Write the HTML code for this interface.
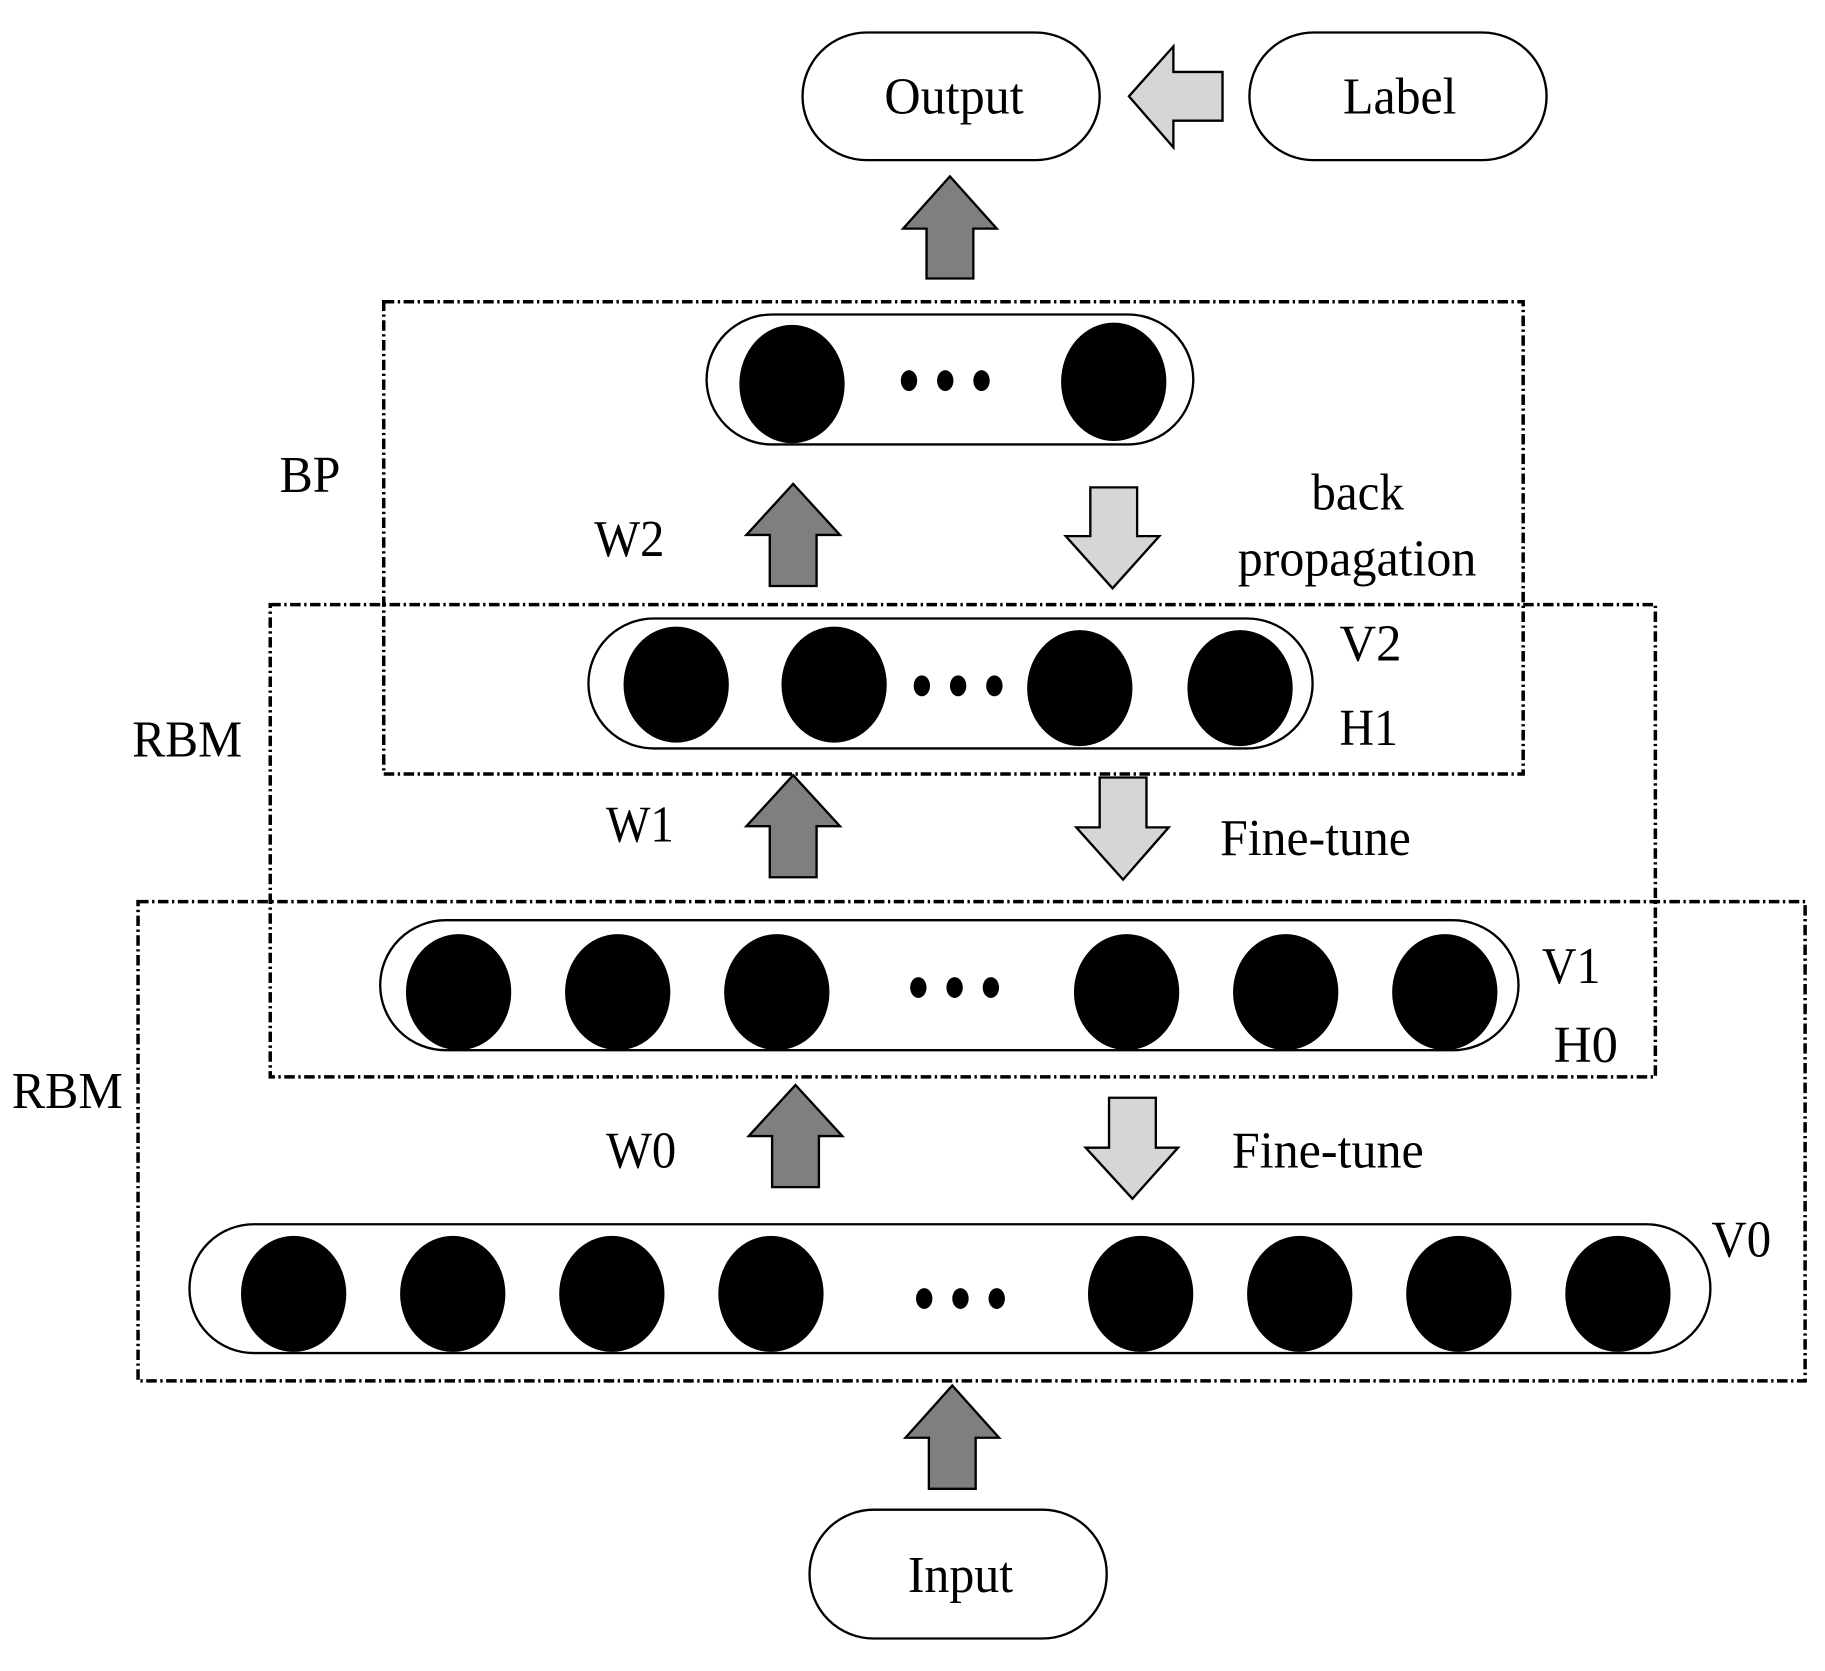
<!DOCTYPE html>
<html><head><meta charset="utf-8"><style>html,body{margin:0;padding:0;background:#fff}svg{display:block}</style></head>
<body>
<svg width="1825" height="1671" viewBox="0 0 1560 1440" preserveAspectRatio="none" xmlns="http://www.w3.org/2000/svg">
<g font-family="Liberation Serif, serif" font-size="45" fill="#000">
<g fill="none" stroke="#000" stroke-width="3" stroke-dasharray="9,3,2,3">
<rect x="328" y="260" width="974" height="407"/>
<rect x="231" y="521" width="1184" height="407"/>
<rect x="118" y="777" width="1425" height="413"/>
</g>
<g fill="#fff" stroke="#000" stroke-width="2">
<rect x="686" y="28" width="254" height="110" rx="55"/>
<rect x="1068" y="28" width="254" height="110" rx="55"/>
<rect x="692" y="1301" width="254" height="111" rx="55"/>
</g>
<text x="756" y="98" textLength="119" lengthAdjust="spacingAndGlyphs">Output</text>
<text x="1148" y="98" textLength="97" lengthAdjust="spacingAndGlyphs">Label</text>
<text x="776" y="1372" textLength="90" lengthAdjust="spacingAndGlyphs">Input</text>
<g stroke="#000" stroke-width="2">
<polygon fill="#d6d6d6" points="965,83 1003,40 1003,62 1045,62 1045,104 1003,104 1003,127"/>
<g fill="#7f7f7f">
<polygon points="812,152 852,197 832,197 832,240 792,240 792,197 772,197"/>
<polygon points="678,417 718,461 698,461 698,505 658,505 658,461 638,461"/>
<polygon points="678,668 718,712 698,712 698,756 658,756 658,712 638,712"/>
<polygon points="680,935 720,979 700,979 700,1023 660,1023 660,979 640,979"/>
<polygon points="814,1194 854,1239 834,1239 834,1283 794,1283 794,1239 774,1239"/>
</g>
<g fill="#d6d6d6">
<polygon points="932,420 972,420 972,462 991,462 951,507 911,462 932,462"/>
<polygon points="940,670 980,670 980,713 999,713 960,758 920,713 940,713"/>
<polygon points="948,946 988,946 988,989 1007,989 968,1033 928,989 948,989"/>
</g>
</g>
<g fill="#fff" stroke="#000" stroke-width="2">
<rect x="604" y="271" width="416" height="112" rx="56"/>
<rect x="503" y="533" width="619" height="112" rx="56"/>
<rect x="325" y="793" width="973" height="112" rx="56"/>
<rect x="162" y="1055" width="1300" height="111" rx="55"/>
</g>
<g fill="#000">
<ellipse cx="677" cy="331" rx="45" ry="51"/><ellipse cx="952" cy="329" rx="45" ry="51"/>
<ellipse cx="777" cy="328" rx="7" ry="9"/><ellipse cx="808" cy="328" rx="7" ry="9"/><ellipse cx="839" cy="328" rx="7" ry="9"/>
<ellipse cx="578" cy="590" rx="45" ry="50"/><ellipse cx="713" cy="590" rx="45" ry="50"/><ellipse cx="923" cy="593" rx="45" ry="50"/><ellipse cx="1060" cy="593" rx="45" ry="50"/>
<ellipse cx="788" cy="591" rx="7" ry="9"/><ellipse cx="819" cy="591" rx="7" ry="9"/><ellipse cx="850" cy="591" rx="7" ry="9"/>
<ellipse cx="392" cy="855" rx="45" ry="50"/><ellipse cx="528" cy="855" rx="45" ry="50"/><ellipse cx="664" cy="855" rx="45" ry="50"/><ellipse cx="963" cy="855" rx="45" ry="50"/><ellipse cx="1099" cy="855" rx="45" ry="50"/><ellipse cx="1235" cy="855" rx="45" ry="50"/>
<ellipse cx="785" cy="851" rx="7" ry="9"/><ellipse cx="816" cy="851" rx="7" ry="9"/><ellipse cx="847" cy="851" rx="7" ry="9"/>
<ellipse cx="251" cy="1115" rx="45" ry="50"/><ellipse cx="387" cy="1115" rx="45" ry="50"/><ellipse cx="523" cy="1115" rx="45" ry="50"/><ellipse cx="659" cy="1115" rx="45" ry="50"/><ellipse cx="975" cy="1115" rx="45" ry="50"/><ellipse cx="1111" cy="1115" rx="45" ry="50"/><ellipse cx="1247" cy="1115" rx="45" ry="50"/><ellipse cx="1383" cy="1115" rx="45" ry="50"/>
<ellipse cx="790" cy="1119" rx="7" ry="9"/><ellipse cx="821" cy="1119" rx="7" ry="9"/><ellipse cx="852" cy="1119" rx="7" ry="9"/>
</g>
<text x="239" y="424" textLength="52" lengthAdjust="spacingAndGlyphs">BP</text>
<text x="508" y="479" textLength="60" lengthAdjust="spacingAndGlyphs">W2</text>
<text x="1121" y="439" textLength="79" lengthAdjust="spacingAndGlyphs">back</text>
<text x="1058" y="496" textLength="204" lengthAdjust="spacingAndGlyphs">propagation</text>
<text x="1145" y="569" textLength="53" lengthAdjust="spacingAndGlyphs">V2</text>
<text x="1145" y="642" textLength="50" lengthAdjust="spacingAndGlyphs">H1</text>
<text x="113" y="652" textLength="94" lengthAdjust="spacingAndGlyphs">RBM</text>
<text x="518" y="725" textLength="58" lengthAdjust="spacingAndGlyphs">W1</text>
<text x="1043" y="737" textLength="163" lengthAdjust="spacingAndGlyphs">Fine-tune</text>
<text x="1318" y="847" textLength="50" lengthAdjust="spacingAndGlyphs">V1</text>
<text x="1328" y="915" textLength="55" lengthAdjust="spacingAndGlyphs">H0</text>
<text x="10" y="955" textLength="95" lengthAdjust="spacingAndGlyphs">RBM</text>
<text x="518" y="1006" textLength="60" lengthAdjust="spacingAndGlyphs">W0</text>
<text x="1053" y="1006" textLength="164" lengthAdjust="spacingAndGlyphs">Fine-tune</text>
<text x="1463" y="1083" textLength="51" lengthAdjust="spacingAndGlyphs">V0</text>
</g>
</svg>
</body></html>
